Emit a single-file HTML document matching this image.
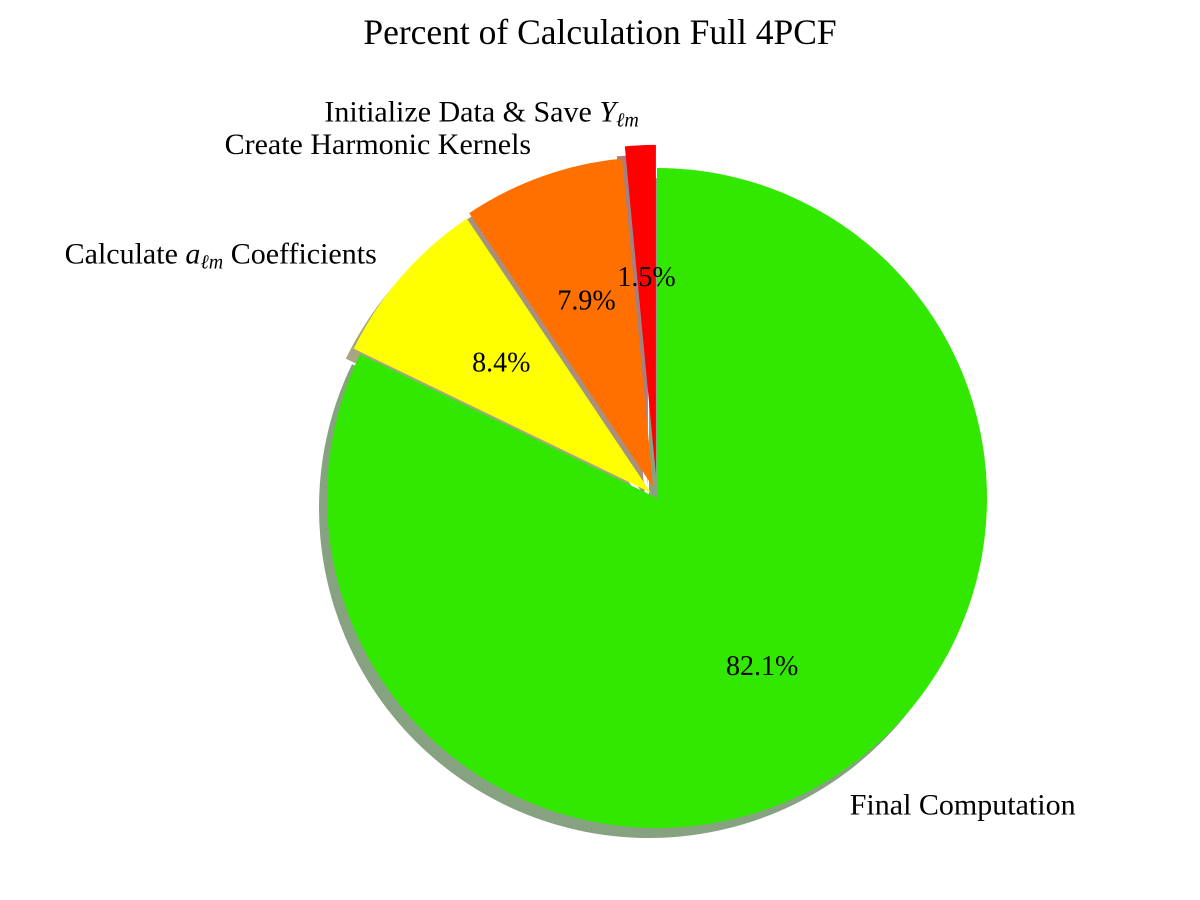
<!DOCTYPE html>
<html><head><meta charset="utf-8"><style>
html,body{margin:0;padding:0;background:#fff;}
svg{display:block;font-family:"Liberation Serif","DejaVu Serif",serif;}
</style></head><body>
<svg id="chart" width="1200" height="900" viewBox="0 0 1200 900">
<text x="600" y="44" text-anchor="middle" font-size="35.5">Percent of Calculation Full 4PCF</text>
<g id="shadows"></g>
<g id="slices"></g>
<g id="labels"></g>
</svg>
<script>
const categories = ["Final Computation", "Calculate a_lm Coefficients", "Create Harmonic Kernels", "Initialize Data & Save Y_lm"];
const values = [82.1, 8.4, 7.9, 1.5];
const explode = [0, 0.025, 0.035, 0.07];
const colors = ["#33e800", "#ffff00", "#ff7000", "#ff0000"];
const labelHtml = [
  'Final Computation',
  'Calculate <tspan font-style="italic">a</tspan><tspan font-style="italic" font-size="20" dy="5">ℓm</tspan><tspan dy="-5"> Coefficients</tspan>',
  'Create Harmonic Kernels',
  'Initialize Data &amp; Save <tspan font-style="italic">Y</tspan><tspan font-style="italic" font-size="20" dy="5">ℓm</tspan>'
];
const NS = "http://www.w3.org/2000/svg";
const cx = 657, cy = 498, R = 330, shX = -8, shY = 10;
const total = values.reduce((a,b)=>a+b,0);
function pt(x0,y0,r,deg){const a=deg*Math.PI/180;return [x0+r*Math.cos(a), y0-r*Math.sin(a)];}
function wedgePath(x0,y0,a1,a2){
  const p1=pt(x0,y0,R,a1), p2=pt(x0,y0,R,a2);
  const large=(a1-a2)>180?1:0;
  return `M${x0},${y0} L${p1[0]},${p1[1]} A${R},${R} 0 ${large} 1 ${p2[0]},${p2[1]} Z`;
}
function shade(hex){
  const n=parseInt(hex.slice(1),16);const c=[(n>>16)&255,(n>>8)&255,n&255];
  return 'rgb('+c.map(v=>Math.round(0.5*v*0.3+127.5)).join(',')+')';
}
let start = 90;
const sh=document.getElementById('shadows'), sl=document.getElementById('slices'), lb=document.getElementById('labels');
values.forEach((v,i)=>{
  const sweep=v/total*360, a1=start, a2=start-sweep, mid=(a1+a2)/2;
  const off=pt(0,0,explode[i]*R,mid);
  const x0=cx+off[0], y0=cy+off[1];
  const s=document.createElementNS(NS,'path');
  s.setAttribute('d',wedgePath(x0+shX,y0+shY,a1,a2));
  s.setAttribute('fill',shade(colors[i]));
  
  
  sh.appendChild(s);
  const p=document.createElementNS(NS,'path');
  p.setAttribute('d',wedgePath(x0,y0,a1,a2));
  p.setAttribute('fill',colors[i]);
  
  
  sl.appendChild(p);
  const pp=pt(x0,y0,0.6*R,mid);
  const t=document.createElementNS(NS,'text');
  t.setAttribute('x',pp[0]);t.setAttribute('y',pp[1]+9);
  t.setAttribute('text-anchor','middle');t.setAttribute('font-size','28');
  t.textContent=v.toFixed(1)+'%';
  
  
  lb.appendChild(t);
  const lp=pt(x0,y0,1.1*R,mid);
  const l=document.createElementNS(NS,'text');
  l.setAttribute('x',lp[0]);l.setAttribute('y',lp[1]+9);
  l.setAttribute('text-anchor',lp[0]<cx?'end':'start');
  l.setAttribute('font-size','30');
  l.innerHTML=labelHtml[i];
  
  
  lb.appendChild(l);
  start=a2;
});
</script>
</body></html>
